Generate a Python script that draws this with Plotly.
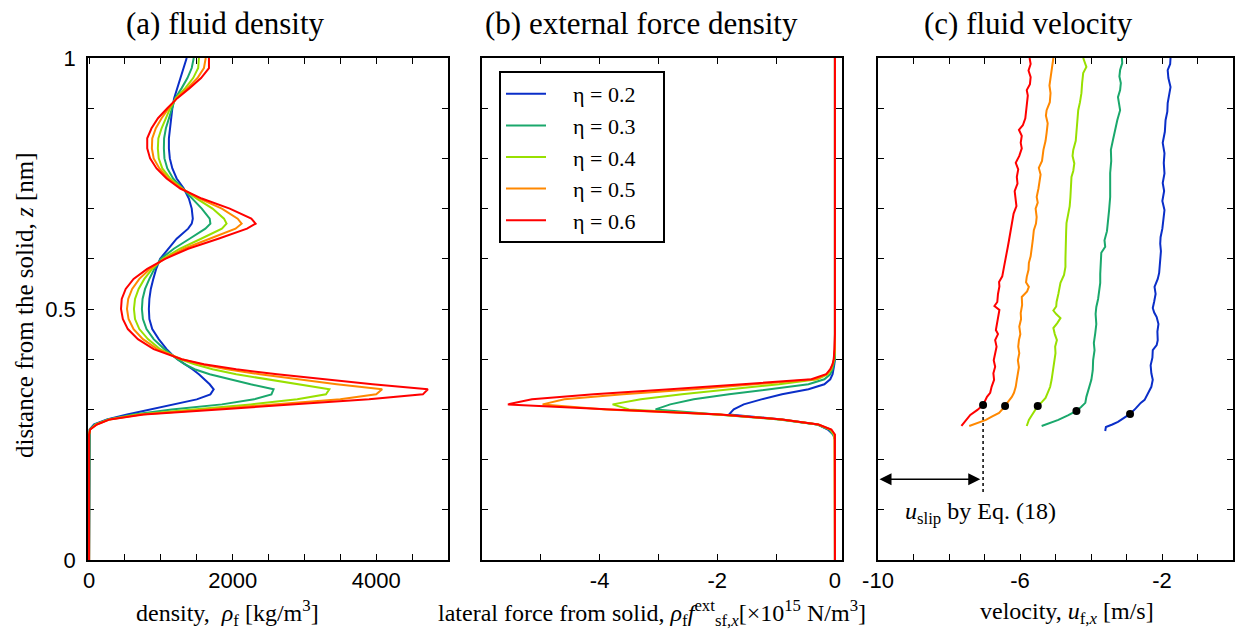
import plotly.graph_objects as go

W, H = 1242, 634

ETAS = ["0.2", "0.3", "0.4", "0.5", "0.6"]
COLORS = ["#0a2ec8", "#1aa86c", "#98e000", "#ff8800", "#ff0000"]

# ---------------- (a) fluid density ----------------
Z_A = [0.00, 0.24, 0.25, 0.26, 0.27, 0.28, 0.29, 0.30, 0.31, 0.32, 0.33, 0.34, 0.35, 0.36,
       0.37, 0.38, 0.39, 0.40, 0.41, 0.42, 0.44, 0.46, 0.48, 0.50, 0.52, 0.54, 0.56, 0.58,
       0.60, 0.62, 0.64, 0.66, 0.67, 0.68, 0.70, 0.72, 0.74, 0.76, 0.78, 0.80, 0.82, 0.84,
       0.86, 0.88, 0.90, 0.92, 0.94, 0.96, 0.98, 1.00]
RHO_02 = [0, 0, 0, 8, 70, 250, 530, 850, 1210, 1500, 1690, 1736, 1680, 1610,
          1530, 1440, 1330, 1230, 1150, 1080, 970, 880, 840, 833, 840, 860, 895, 935,
          990, 1110, 1220, 1380, 1430, 1445, 1430, 1390, 1320, 1220, 1160, 1125, 1112, 1112,
          1125, 1140, 1160, 1185, 1230, 1280, 1320, 1360]
RHO_03 = [0, 0, 0, 10, 85, 265, 620, 1150, 1850, 2300, 2540, 2570, 2250, 1950,
          1680, 1470, 1330, 1230, 1140, 1050, 900, 800, 750, 736, 745, 780, 840, 910,
          1000, 1180, 1400, 1620, 1690, 1680, 1570, 1440, 1300, 1170, 1090, 1050, 1042, 1045,
          1070, 1110, 1150, 1200, 1290, 1370, 1430, 1458]
RHO_04 = [0, 0, 0, 12, 95, 275, 680, 1450, 2250, 2900, 3300, 3347, 2900, 2450,
          2050, 1720, 1470, 1260, 1120, 990, 820, 700, 640, 625, 640, 690, 770, 880,
          1030, 1260, 1560, 1850, 1915, 1880, 1720, 1500, 1300, 1130, 1020, 970, 958, 965,
          1010, 1070, 1130, 1210, 1340, 1450, 1520, 1530]
RHO_05 = [0, 0, 0, 14, 105, 285, 720, 1650, 2600, 3500, 4000, 4083, 3450, 2880,
          2380, 1920, 1560, 1290, 1110, 950, 750, 620, 550, 528, 545, 600, 700, 850,
          1050, 1320, 1680, 2040, 2125, 2070, 1850, 1540, 1290, 1100, 980, 900, 875, 880,
          930, 1010, 1110, 1220, 1370, 1510, 1600, 1625]
RHO_06 = [0, 0, 0, 15, 110, 290, 760, 1810, 2860, 3900, 4650, 4720, 3950, 3250,
          2620, 2050, 1600, 1290, 1100, 900, 680, 540, 470, 445, 455, 510, 620, 810,
          1060, 1380, 1800, 2200, 2320, 2260, 1960, 1570, 1270, 1080, 940, 850, 810, 810,
          870, 960, 1090, 1230, 1400, 1560, 1670, 1670]
RHO = [RHO_02, RHO_03, RHO_04, RHO_05, RHO_06]

# ---------------- (b) external force density ----------------
Z_B = [0.00, 0.24, 0.25, 0.26, 0.27, 0.28, 0.29, 0.30, 0.31, 0.32, 0.33, 0.34, 0.35,
       0.36, 0.37, 0.38, 0.39, 0.40, 0.42, 0.45, 0.50, 0.60, 0.70, 0.80, 0.90, 1.00]
F_02 = [0, 0, -0.03, -0.12, -0.30, -0.90, -1.80, -1.72, -1.55, -1.25, -0.90, -0.45, -0.18,
        -0.08, -0.04, -0.02, -0.01, 0, 0, 0, 0, 0, 0, 0, 0, 0]
F_03 = [0, 0, -0.03, -0.10, -0.30, -0.95, -2.00, -3.05, -2.80, -2.40, -1.80, -1.10, -0.45,
        -0.18, -0.08, -0.04, -0.02, 0, 0, 0, 0, 0, 0, 0, 0, 0]
F_04 = [0, 0, -0.02, -0.08, -0.29, -0.92, -2.00, -3.50, -3.78, -3.30, -2.60, -1.80, -0.95,
        -0.30, -0.12, -0.06, -0.03, -0.01, 0, 0, 0, 0, 0, 0, 0, 0]
F_05 = [0, 0, -0.01, -0.07, -0.28, -0.90, -1.97, -3.90, -4.97, -4.60, -3.60, -2.40, -1.30,
        -0.33, -0.14, -0.07, -0.04, -0.02, 0, 0, 0, 0, 0, 0, 0, 0]
F_06 = [0, 0, 0, -0.06, -0.28, -0.90, -1.95, -3.80, -5.56, -5.15, -4.10, -2.80, -1.60,
        -0.40, -0.15, -0.08, -0.04, -0.02, -0.01, 0, 0, 0, 0, 0, 0, 0]
FORCE = [F_02, F_03, F_04, F_05, F_06]

# ---------------- (c) fluid velocity ----------------
Z_C_02 = [0.257, 0.265, 0.270, 0.275, 0.283, 0.291, 0.302, 0.313, 0.319, 0.330, 0.345, 0.359,
          0.372, 0.388, 0.403, 0.418, 0.428, 0.438, 0.455, 0.470, 0.484, 0.493, 0.502, 0.515,
          0.530, 0.544, 0.560, 0.572, 0.584, 0.600, 0.615, 0.630, 0.643, 0.660, 0.680, 0.697,
          0.715, 0.735, 0.751, 0.770, 0.791, 0.810, 0.831, 0.853, 0.876, 0.893, 0.910, 0.925,
          0.942, 0.960, 0.976, 0.988, 1.000]
U_02 = [-3.60, -3.58, -3.40, -3.24, -3.07, -2.90, -2.74, -2.60, -2.49, -2.40, -2.30, -2.26,
        -2.30, -2.32, -2.27, -2.26, -2.15, -2.12, -2.13, -2.10, -2.15, -2.22, -2.26, -2.22,
        -2.18, -2.21, -2.12, -2.08, -2.07, -2.06, -2.03, -2.05, -2.04, -1.99, -1.96, -1.93,
        -1.99, -1.94, -1.98, -1.93, -1.95, -1.93, -1.98, -1.92, -1.90, -1.85, -1.84, -1.80,
        -1.76, -1.82, -1.84, -1.77, -1.76]
Z_C_03 = [0.267, 0.273, 0.279, 0.288, 0.297, 0.305, 0.313, 0.325, 0.340, 0.359, 0.378, 0.398,
          0.418, 0.432, 0.452, 0.470, 0.490, 0.504, 0.520, 0.536, 0.552, 0.570, 0.590, 0.612,
          0.624, 0.637, 0.655, 0.671, 0.697, 0.723, 0.747, 0.771, 0.795, 0.817, 0.837, 0.857,
          0.876, 0.896, 0.910, 0.922, 0.936, 0.950, 0.963, 0.976, 0.990, 1.000]
U_03 = [-5.39, -5.15, -4.92, -4.65, -4.41, -4.28, -4.16, -4.13, -4.06, -3.99, -3.95, -3.94,
        -3.90, -3.92, -3.88, -3.85, -3.87, -3.85, -3.80, -3.76, -3.74, -3.74, -3.72, -3.71,
        -3.60, -3.62, -3.55, -3.52, -3.49, -3.46, -3.47, -3.46, -3.43, -3.44, -3.38, -3.32,
        -3.26, -3.18, -3.21, -3.24, -3.18, -3.16, -3.20, -3.18, -3.12, -3.13]
Z_C_04 = [0.267, 0.273, 0.279, 0.287, 0.295, 0.307, 0.315, 0.323, 0.333, 0.345, 0.359, 0.372,
          0.384, 0.398, 0.412, 0.425, 0.438, 0.450, 0.462, 0.472, 0.482, 0.490, 0.497, 0.505,
          0.514, 0.530, 0.541, 0.552, 0.568, 0.584, 0.600, 0.618, 0.637, 0.655, 0.671, 0.690,
          0.705, 0.723, 0.740, 0.763, 0.775, 0.790, 0.805, 0.817, 0.835, 0.857, 0.876, 0.896,
          0.912, 0.930, 0.950, 0.970, 0.982, 1.000]
U_04 = [-5.81, -5.79, -5.75, -5.68, -5.61, -5.50, -5.38, -5.28, -5.22, -5.15, -5.11, -5.08,
        -5.06, -5.02, -5.00, -5.01, -4.96, -5.02, -5.06, -4.95, -4.86, -4.98, -5.06, -4.98,
        -4.97, -4.92, -4.88, -4.86, -4.76, -4.72, -4.72, -4.72, -4.72, -4.70, -4.69, -4.64,
        -4.60, -4.58, -4.57, -4.55, -4.50, -4.47, -4.52, -4.50, -4.43, -4.41, -4.38, -4.36,
        -4.31, -4.27, -4.25, -4.22, -4.13, -4.22]
Z_C_05 = [0.267, 0.273, 0.279, 0.286, 0.293, 0.300, 0.307, 0.315, 0.325, 0.333, 0.345, 0.359,
          0.372, 0.384, 0.398, 0.412, 0.425, 0.438, 0.450, 0.465, 0.480, 0.492, 0.508, 0.524,
          0.535, 0.544, 0.553, 0.564, 0.578, 0.592, 0.605, 0.618, 0.637, 0.657, 0.670, 0.683,
          0.700, 0.712, 0.723, 0.740, 0.755, 0.768, 0.781, 0.795, 0.817, 0.835, 0.851, 0.870,
          0.885, 0.896, 0.912, 0.930, 0.945, 0.962, 0.980, 1.000]
U_05 = [-7.43, -7.20, -6.96, -6.78, -6.59, -6.50, -6.42, -6.32, -6.23, -6.17, -6.12, -6.09,
        -6.05, -6.03, -6.06, -6.02, -6.05, -6.03, -5.99, -6.02, -5.97, -5.98, -5.94, -5.95,
        -5.80, -5.75, -5.83, -5.81, -5.76, -5.75, -5.70, -5.67, -5.64, -5.61, -5.55, -5.53,
        -5.56, -5.50, -5.53, -5.48, -5.45, -5.42, -5.47, -5.38, -5.34, -5.28, -5.25, -5.22,
        -5.27, -5.25, -5.16, -5.14, -5.17, -5.14, -5.10, -5.06]
Z_C_06 = [0.267, 0.279, 0.289, 0.299, 0.309, 0.325, 0.333, 0.345, 0.359, 0.372, 0.385, 0.398,
          0.412, 0.425, 0.438, 0.450, 0.458, 0.470, 0.485, 0.498, 0.506, 0.514, 0.530, 0.545,
          0.554, 0.565, 0.584, 0.600, 0.612, 0.625, 0.637, 0.655, 0.671, 0.690, 0.705, 0.717,
          0.735, 0.750, 0.763, 0.778, 0.791, 0.805, 0.820, 0.831, 0.845, 0.857, 0.866, 0.880,
          0.895, 0.910, 0.925, 0.936, 0.948, 0.962, 0.975, 0.988, 1.000]
U_06 = [-7.65, -7.50, -7.40, -7.20, -7.04, -6.93, -6.84, -6.80, -6.73, -6.75, -6.70, -6.74,
        -6.70, -6.66, -6.70, -6.62, -6.68, -6.65, -6.60, -6.58, -6.72, -6.64, -6.62, -6.58,
        -6.59, -6.50, -6.45, -6.40, -6.36, -6.34, -6.31, -6.26, -6.23, -6.18, -6.10, -6.12,
        -6.15, -6.07, -6.09, -6.05, -6.12, -6.02, -5.95, -5.98, -5.95, -6.03, -5.92, -5.85,
        -5.82, -5.80, -5.78, -5.81, -5.72, -5.70, -5.76, -5.70, -5.73]
Z_C = [Z_C_02, Z_C_03, Z_C_04, Z_C_05, Z_C_06]
U_C = [U_02, U_03, U_04, U_05, U_06]

# slip points (black dots)
DOT_Z = [0.291, 0.297, 0.307, 0.307, 0.309]
DOT_U = [-2.90, -4.41, -5.50, -6.42, -7.04]

# annotation values for the u_slip arrow
ARROW_Z = 0.161
DOTLINE_Z_BOTTOM = 0.133
SLIP_TEXT_Z = 0.094

# tick labels
XA_TICKS = [0, 2000, 4000]
XB_TICKS = [-4, -2, 0]
XC_TICKS = [-10, -6, -2]
Y_TICKS = [0, 0.5, 1]

# ---------------- layout helpers ----------------
def px_x(p):
    return p / W

def px_y(p):
    return 1 - p / H

YDOM = [px_y(560), px_y(58)]
XDOM_A = [px_x(88), px_x(448)]
XDOM_B = [px_x(482), px_x(842)]
XDOM_C = [px_x(878), px_x(1233)]

TICKFONT = dict(family="Liberation Sans, Arial, sans-serif", size=22, color="black")
SERIF = "Liberation Serif"

def fmt(v):
    return ("%g" % v)

def axis_common(**kw):
    d = dict(showline=True, linecolor="black", linewidth=1.5, mirror="ticks",
             ticks="inside", ticklen=6, tickwidth=1.2, tickcolor="black",
             showgrid=False, zeroline=False, tickfont=TICKFONT, layer="below traces",
             automargin=False)
    d.update(kw)
    return d

def minor(dt):
    return dict(ticks="inside", ticklen=6, tickwidth=1.2, tickcolor="black", dtick=dt, tick0=0)

NBSP = "\u00a0"
fig = go.Figure()

for i in range(5):
    fig.add_trace(go.Scatter(x=RHO[i], y=Z_A, mode="lines",
                             name=NBSP * 4 + "\u03b7 = " + ETAS[i] + NBSP * 4,
                             line=dict(color=COLORS[i], width=2), xaxis="x", yaxis="y",
                             showlegend=True))
for i in range(5):
    fig.add_trace(go.Scatter(x=FORCE[i], y=Z_B, mode="lines", line=dict(color=COLORS[i], width=2),
                             xaxis="x2", yaxis="y2", showlegend=False))
for i in range(5):
    fig.add_trace(go.Scatter(x=U_C[i], y=Z_C[i], mode="lines", line=dict(color=COLORS[i], width=2),
                             xaxis="x3", yaxis="y3", showlegend=False))

# dotted guide line from red slip dot downward
fig.add_trace(go.Scatter(x=[DOT_U[4], DOT_U[4]], y=[DOT_Z[4], DOTLINE_Z_BOTTOM], mode="lines",
                         line=dict(color="black", width=1.5, dash="dot"), xaxis="x3", yaxis="y3",
                         showlegend=False))
fig.add_trace(go.Scatter(x=DOT_U, y=DOT_Z, mode="markers",
                         marker=dict(color="black", size=8), xaxis="x3", yaxis="y3",
                         showlegend=False))

fig.update_layout(
    width=W, height=H, margin=dict(l=0, r=0, t=0, b=0, autoexpand=False),
    paper_bgcolor="white", plot_bgcolor="white",
    xaxis=axis_common(domain=XDOM_A, range=[-15, 5000], tickvals=XA_TICKS,
                      ticktext=[fmt(v) for v in XA_TICKS], minor=minor(500), anchor="y"),
    yaxis=axis_common(domain=YDOM, range=[0, 1], tickvals=Y_TICKS,
                      ticktext=[fmt(v) for v in Y_TICKS], minor=minor(0.1), anchor="x",
                      ticklabelstandoff=6),
    xaxis2=axis_common(domain=XDOM_B, range=[-6, 0.12], tickvals=XB_TICKS,
                       ticktext=[fmt(v) for v in XB_TICKS], minor=minor(1), anchor="y2"),
    yaxis2=axis_common(domain=YDOM, range=[0, 1], showticklabels=False, dtick=0.5,
                       minor=minor(0.1), anchor="x2"),
    xaxis3=axis_common(domain=XDOM_C, range=[-10, 0], tickvals=XC_TICKS,
                       ticktext=[fmt(v) for v in XC_TICKS], minor=minor(1), anchor="y3"),
    yaxis3=axis_common(domain=YDOM, range=[0, 1], showticklabels=False, dtick=0.5,
                       minor=minor(0.1), anchor="x3"),
    legend=dict(x=px_x(499), y=px_y(71), xanchor="left", yanchor="top",
                bgcolor="white", bordercolor="black", borderwidth=2,
                font=dict(family=SERIF, size=22, color="black"),
                itemwidth=40, tracegroupgap=0),
    showlegend=True,
)

TITLE_FONT = dict(family=SERIF, size=31, color="black")
LABEL_FONT = dict(family=SERIF, size=24, color="black")

annotations = [
    dict(text="(a) fluid density", x=px_x(225), y=px_y(24), xref="paper", yref="paper",
         showarrow=False, font=TITLE_FONT, xanchor="center", yanchor="middle"),
    dict(text="(b) external force density", x=px_x(641), y=px_y(24), xref="paper", yref="paper",
         showarrow=False, font=TITLE_FONT, xanchor="center", yanchor="middle"),
    dict(text="(c) fluid velocity", x=px_x(1028), y=px_y(24), xref="paper", yref="paper",
         showarrow=False, font=TITLE_FONT, xanchor="center", yanchor="middle"),
    dict(text="density,  <i>\u03c1</i><sub>f</sub> [kg/m<sup>3</sup>]", x=px_x(227), y=px_y(613),
         xref="paper", yref="paper", showarrow=False,
         font=LABEL_FONT, xanchor="center", yanchor="middle"),
    dict(text="lateral force from solid, <i>\u03c1</i><sub>f</sub><i>f</i><sup>ext</sup><sub>sf,<i>x</i></sub>[\u00d710<sup>15</sup> N/m<sup>3</sup>]",
         x=px_x(652), y=px_y(613), xref="paper", yref="paper", showarrow=False,
         font=LABEL_FONT, xanchor="center", yanchor="middle"),
    dict(text="velocity, <i>u</i><sub>f,<i>x</i></sub> [m/s]", x=px_x(1067), y=px_y(613),
         xref="paper", yref="paper", showarrow=False,
         font=LABEL_FONT, xanchor="center", yanchor="middle"),
    dict(text="distance from the solid, <i>z</i> [nm]", x=px_x(24), y=px_y(305),
         xref="paper", yref="paper", showarrow=False, textangle=-90,
         font=dict(family=SERIF, size=25, color="black"), xanchor="center", yanchor="middle"),
    # double-headed arrow for u_slip
    dict(x=DOT_U[4] - 0.08, y=ARROW_Z, ax=-10, ay=ARROW_Z, xref="x3", yref="y3",
         axref="x3", ayref="y3", text="", showarrow=True, arrowhead=2, arrowside="end+start",
         arrowsize=1.6, arrowwidth=1.5, arrowcolor="black", standoff=0, startstandoff=0),
    dict(text="<i>u</i><sub>slip</sub> by Eq. (18)", x=-7.12, y=SLIP_TEXT_Z, xref="x3", yref="y3",
         showarrow=False, font=LABEL_FONT, xanchor="center", yanchor="middle"),
]
fig.update_layout(annotations=annotations)

fig.write_html("out.html")
